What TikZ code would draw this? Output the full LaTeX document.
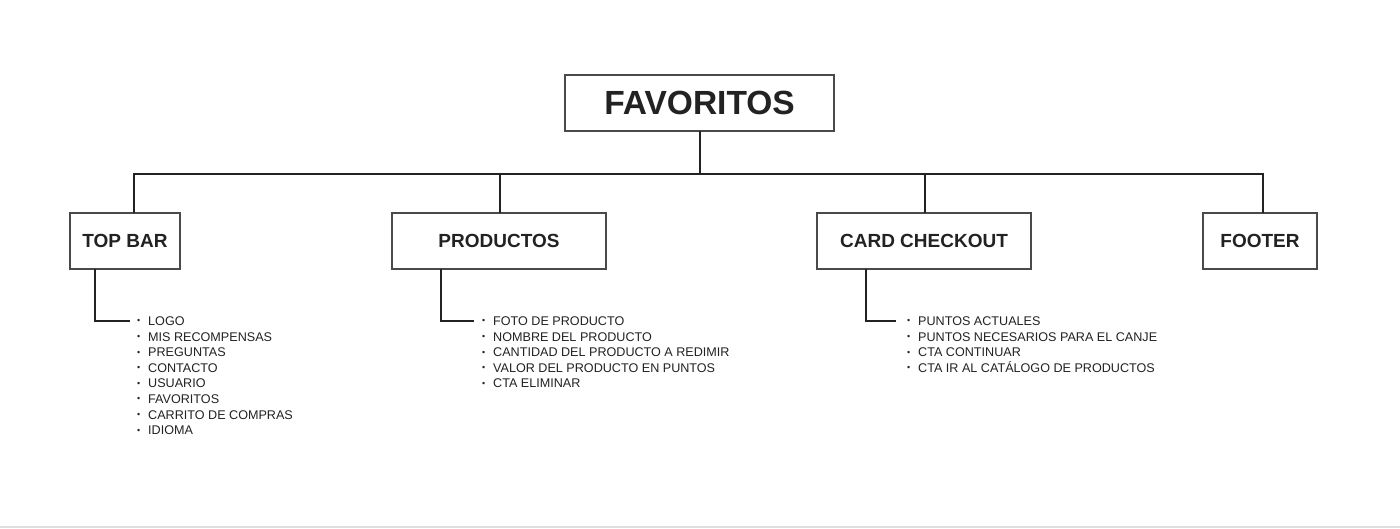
\documentclass[tikz,border=0pt]{standalone}
\usepackage{fontspec}
\usepackage{graphicx}
\setmainfont{Liberation Sans}
\definecolor{ink}{HTML}{222222}
\definecolor{boxline}{HTML}{4A4A4A}
\newcommand{\itm}[1]{\makebox[11pt][l]{\raisebox{0.25ex}{\scalebox{0.7}{\textbullet}}}#1}
\tikzset{
  px/.style={x=1pt,y=-1pt},
  box/.style={draw=boxline,line width=1.2pt,fill=white,inner sep=0pt,text=ink,font=\bfseries\fontsize{19}{22}\selectfont},
  conn/.style={draw=ink,line width=2pt,line cap=rect},
  item/.style={anchor=base west,inner sep=0pt,text=ink,font=\fontsize{12.6}{15}\selectfont}
}
\begin{document}
\begin{tikzpicture}[px]
\useasboundingbox (0,0) rectangle (1400,528);
\fill[white] (0,0) rectangle (1400,528);
\fill[black!12] (0,526) rectangle (1400,528);
% boxes
\node[box,minimum width=269pt,minimum height=56pt,font=\bfseries\fontsize{33.5}{40}\selectfont] (fav) at (699.5,103) {FAVORITOS};
\node[box,minimum width=110pt,minimum height=56pt] (tb) at (125,241) {TOP BAR};
\node[box,minimum width=214pt,minimum height=56pt] (pr) at (499,241) {PRODUCTOS};
\node[box,minimum width=214pt,minimum height=56pt] (cc) at (924,241) {CARD CHECKOUT};
\node[box,minimum width=114pt,minimum height=56pt] (ft) at (1260,241) {FOOTER};
% bus
\coordinate (bus) at (700,174);
\coordinate (dtb) at (134,174);
\coordinate (dpr) at (500,174);
\coordinate (dcc) at (925,174);
\coordinate (dft) at (1263,174);
\draw[conn] (fav.south -| bus) -- (bus);
\draw[conn] (dtb |- tb.north) -- (dtb) -- (dft) -- (dft |- ft.north);
\draw[conn] (dpr) -- (dpr |- pr.north);
\draw[conn] (dcc) -- (dcc |- cc.north);
% lists
\foreach \t [count=\i] in {LOGO,MIS RECOMPENSAS,PREGUNTAS,CONTACTO,USUARIO,FAVORITOS,CARRITO DE COMPRAS,IDIOMA}
  \node[item] (ta\i) at (137,{325.5+15.6*(\i-1)}) {\itm{\t}};
\foreach \t [count=\i] in {FOTO DE PRODUCTO,NOMBRE DEL PRODUCTO,CANTIDAD DEL PRODUCTO A REDIMIR,VALOR DEL PRODUCTO EN PUNTOS,CTA ELIMINAR}
  \node[item] (pa\i) at (482,{325.5+15.6*(\i-1)}) {\itm{\t}};
\foreach \t [count=\i] in {PUNTOS ACTUALES,PUNTOS NECESARIOS PARA EL CANJE,CTA CONTINUAR,CTA IR AL CATÁLOGO DE PRODUCTOS}
  \node[item] (ca\i) at (907,{325.5+15.6*(\i-1)}) {\itm{\t}};
% branches
\coordinate (btb) at (95,321);
\coordinate (bpr) at (441,321);
\coordinate (bcc) at (866,321);
\draw[conn] (btb |- tb.south) -- (btb) -- ([xshift=-8pt]ta1.west |- btb);
\draw[conn] (bpr |- pr.south) -- (bpr) -- ([xshift=-9pt]pa1.west |- bpr);
\draw[conn] (bcc |- cc.south) -- (bcc) -- ([xshift=-12pt]ca1.west |- bcc);
\end{tikzpicture}
\end{document}
